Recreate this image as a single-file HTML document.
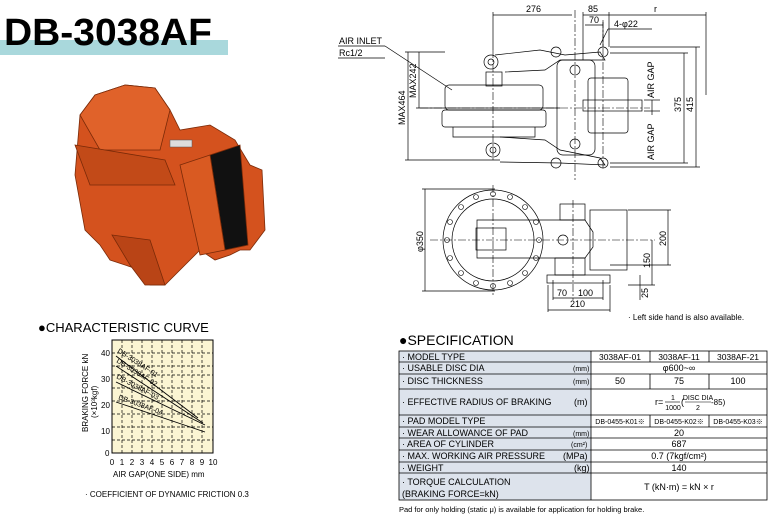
<!DOCTYPE html>
<html><head><meta charset="utf-8"><style>
body{margin:0;background:#fff;width:772px;height:518px;overflow:hidden;font-family:"Liberation Sans",sans-serif}
svg{display:block}
text{font-family:"Liberation Sans","Noto Sans CJK JP",sans-serif}
</style></head><body>
<svg width="772" height="518" viewBox="0 0 772 518" xmlns="http://www.w3.org/2000/svg">
<!-- title -->
<rect x="0" y="40" width="228" height="15" fill="#a9d8dc"/>
<text x="4" y="45" font-size="38" font-weight="bold" fill="#000" textLength="208" lengthAdjust="spacingAndGlyphs">DB-3038AF</text>

<!-- photo -->
<g stroke="#7a2a08" stroke-width="0.8">
<path d="M80 115 L95 95 L125 85 L155 88 L170 110 L180 130 L210 125 L235 140 L250 165 L262 170 L265 230 L250 250 L240 250 L230 255 L215 260 L200 250 L185 265 L165 285 L150 285 L140 270 L110 260 L100 245 L85 230 L75 175 Z" fill="#d4521e"/>
<path d="M80 115 L95 95 L125 85 L155 88 L170 110 L160 150 L100 150 Z" fill="#e0622a"/>
<path d="M75 145 L165 160 L175 185 L90 185 Z" fill="#c24a18"/>
<path d="M210 155 L240 145 L248 245 L225 250 Z" fill="#111"/>
<path d="M180 165 L210 155 L225 250 L200 255 Z" fill="#d95a22"/>
<path d="M112 235 L150 240 L165 285 L145 285 L130 265 Z" fill="#b94416"/>
</g>
<rect x="170" y="140" width="22" height="7" fill="#ddd" stroke="#555" stroke-width="0.5"/>

<!-- top drawing -->
<g fill="none" stroke="#000" stroke-width="0.7">
<line x1="493" y1="15" x2="572" y2="15"/><line x1="493" y1="12" x2="493" y2="50"/>
<line x1="583" y1="15" x2="609" y2="15"/><line x1="609" y1="15" x2="706" y2="15"/><line x1="706" y1="12" x2="706" y2="95"/>
<line x1="585" y1="25" x2="603" y2="25"/><line x1="603" y1="22" x2="603" y2="47"/><line x1="583" y1="12" x2="583" y2="60"/><line x1="609" y1="12" x2="609" y2="47"/>
<line x1="608" y1="29" x2="652" y2="29"/><line x1="608" y1="29" x2="600" y2="45"/>
<line x1="338" y1="46" x2="385" y2="46"/><line x1="385" y1="46" x2="452" y2="90"/><line x1="338" y1="58" x2="385" y2="58"/>
<rect x="445" y="85" width="98" height="25" rx="4"/>
<rect x="442" y="110" width="104" height="17" rx="3"/>
<path d="M453 127 L453 137 L535 137 L535 127"/>
<rect x="486" y="72" width="16" height="14"/>
<circle cx="491" cy="62" r="7"/><circle cx="491" cy="62" r="3"/>
<path d="M495 55 L540 50 L565 55 L600 52 L605 60 L560 60 L545 70 L505 72"/>
<path d="M500 137 L545 140 L560 150 L600 158 L605 165 L560 163 L500 162"/>
<circle cx="493" cy="150" r="7"/><circle cx="493" cy="150" r="3"/>
<rect x="557" y="60" width="38" height="95" rx="6"/>
<circle cx="575" cy="70" r="5"/><circle cx="575" cy="144" r="5"/>
<rect x="588" y="78" width="40" height="55" rx="3"/>
<rect x="583" y="100" width="59" height="11"/>
<circle cx="556" cy="52" r="5"/><circle cx="603" cy="52" r="5"/><circle cx="556" cy="163" r="5"/><circle cx="603" cy="163" r="5"/>
<line x1="408" y1="52" x2="408" y2="160"/><line x1="405" y1="52" x2="445" y2="52"/><line x1="405" y1="160" x2="500" y2="160"/>
<line x1="419" y1="52" x2="419" y2="108"/><line x1="416" y1="108" x2="560" y2="108"/>
<line x1="684" y1="53" x2="684" y2="163"/><line x1="610" y1="53" x2="688" y2="53"/><line x1="610" y1="163" x2="688" y2="163"/>
<line x1="696" y1="47" x2="696" y2="167"/><line x1="610" y1="47" x2="700" y2="47"/><line x1="610" y1="167" x2="700" y2="167"/>
<line x1="652" y1="100" x2="652" y2="115"/><line x1="644" y1="100" x2="660" y2="100"/><line x1="644" y1="111" x2="660" y2="111"/>
</g>
<g stroke="#000" stroke-width="0.6" stroke-dasharray="8,2,2,2" fill="none">
<line x1="575" y1="10" x2="575" y2="180"/><line x1="493" y1="50" x2="493" y2="160"/><line x1="603" y1="20" x2="603" y2="170"/>
<line x1="420" y1="108" x2="650" y2="108"/>
</g>
<g font-size="9" fill="#000">
<text x="526" y="12">276</text><text x="588" y="12">85</text><text x="589" y="23">70</text><text x="654" y="12">r</text>
<text x="614" y="27">4-φ22</text>
<text x="339" y="44">AIR INLET</text><text x="339" y="56">Rc1/2</text>
<text transform="translate(405,125) rotate(-90)">MAX464</text>
<text transform="translate(416,98) rotate(-90)">MAX242</text>
<text transform="translate(681,112) rotate(-90)">375</text>
<text transform="translate(693,112) rotate(-90)">415</text>
<text transform="translate(654,98) rotate(-90)">AIR GAP</text>
<text transform="translate(654,160) rotate(-90)">AIR GAP</text>
</g>

<!-- bottom drawing -->
<g fill="none" stroke="#000" stroke-width="0.7">
<circle cx="493" cy="240" r="50"/><circle cx="493" cy="240" r="41"/>
<g stroke-width="0.6">
<circle cx="539" cy="240" r="2.5"/><circle cx="447" cy="240" r="2.5"/><circle cx="493" cy="194" r="2.5"/><circle cx="493" cy="286" r="2.5"/>
<circle cx="525" cy="207" r="2.5"/><circle cx="461" cy="207" r="2.5"/><circle cx="525" cy="273" r="2.5"/><circle cx="461" cy="273" r="2.5"/>
<circle cx="536" cy="222" r="2.5"/><circle cx="450" cy="222" r="2.5"/><circle cx="536" cy="258" r="2.5"/><circle cx="450" cy="258" r="2.5"/>
<circle cx="510" cy="197" r="2.5"/><circle cx="476" cy="197" r="2.5"/><circle cx="510" cy="283" r="2.5"/><circle cx="476" cy="283" r="2.5"/>
</g>
<path d="M477 220 L585 220 L593 232 L593 247 L585 258 L477 258 Z"/>
<rect x="476" y="228" width="30" height="22"/>
<rect x="560" y="204" width="25" height="16"/>
<circle cx="563" cy="240" r="5"/>
<rect x="590" y="210" width="37" height="60"/>
<rect x="555" y="258" width="30" height="17"/>
<rect x="547" y="275" width="63" height="8"/>
<line x1="425" y1="189" x2="425" y2="291"/><line x1="422" y1="189" x2="495" y2="189"/><line x1="422" y1="291" x2="495" y2="291"/>
<line x1="668" y1="210" x2="668" y2="265"/><line x1="628" y1="210" x2="671" y2="210"/><line x1="610" y1="265" x2="671" y2="265"/>
<line x1="652" y1="240" x2="652" y2="285"/><line x1="628" y1="285" x2="655" y2="285"/>
<line x1="640" y1="275" x2="640" y2="300"/>
<line x1="553" y1="298" x2="603" y2="298"/><line x1="553" y1="280" x2="553" y2="300"/><line x1="603" y1="280" x2="603" y2="300"/>
<line x1="548" y1="310" x2="610" y2="310"/><line x1="548" y1="285" x2="548" y2="312"/><line x1="610" y1="285" x2="610" y2="312"/>
</g>
<g stroke="#000" stroke-width="0.6" stroke-dasharray="8,2,2,2" fill="none">
<line x1="430" y1="240" x2="655" y2="240"/><line x1="493" y1="185" x2="493" y2="295"/><line x1="573" y1="200" x2="573" y2="300"/>
</g>
<g font-size="9" fill="#000">
<text transform="translate(423,252) rotate(-90)">φ350</text>
<text transform="translate(666,246) rotate(-90)">200</text>
<text transform="translate(650,268) rotate(-90)">150</text>
<text transform="translate(648,298) rotate(-90)">25</text>
<text x="557" y="296">70</text><text x="578" y="296">100</text><text x="570" y="307">210</text>
<text x="628" y="320" font-size="8">· Left side hand is also available.</text>
</g>

<!-- characteristic curve -->
<text x="38" y="332" font-size="13">●CHARACTERISTIC CURVE</text>
<rect x="112" y="340" width="101" height="113" fill="#fbf5d3" stroke="#000" stroke-width="1"/>
<g stroke="#000" stroke-width="0.7" stroke-dasharray="3,2">
<line x1="122" y1="340" x2="122" y2="453"/><line x1="132" y1="340" x2="132" y2="453"/><line x1="142" y1="340" x2="142" y2="453"/><line x1="152" y1="340" x2="152" y2="453"/><line x1="162" y1="340" x2="162" y2="453"/><line x1="172" y1="340" x2="172" y2="453"/><line x1="182" y1="340" x2="182" y2="453"/><line x1="192" y1="340" x2="192" y2="453"/><line x1="202" y1="340" x2="202" y2="453"/>
<line x1="112" y1="427" x2="213" y2="427"/><line x1="112" y1="401" x2="213" y2="401"/><line x1="112" y1="375" x2="213" y2="375"/><line x1="112" y1="353" x2="213" y2="353"/><line x1="112" y1="366" x2="213" y2="366"/><line x1="112" y1="388" x2="213" y2="388"/><line x1="112" y1="414" x2="213" y2="414"/><line x1="112" y1="440" x2="213" y2="440"/>
</g>
<g stroke="#000" stroke-width="0.9">
<line x1="116" y1="356" x2="198" y2="418"/><line x1="116" y1="366" x2="203" y2="423"/><line x1="116" y1="382" x2="205" y2="425"/><line x1="116" y1="402" x2="205" y2="432"/>
</g>
<g font-size="7" fill="#000">
<text transform="translate(117,352) rotate(33)">DB-3038AF-01</text>
<text transform="translate(116,362) rotate(32)">DB-3038AF-02</text>
<text transform="translate(116,378) rotate(28)">DB-3038AF-03</text>
<text transform="translate(118,399) rotate(20)">DB-3038AF-04</text>
</g>
<g font-size="8" fill="#000">
<text x="101" y="356">40</text><text x="101" y="382">30</text><text x="101" y="408">20</text><text x="101" y="434">10</text><text x="105" y="456">0</text>
<g text-anchor="middle"><text x="112" y="465">0</text><text x="122" y="465">1</text><text x="132" y="465">2</text><text x="142" y="465">3</text><text x="152" y="465">4</text><text x="162" y="465">5</text><text x="172" y="465">6</text><text x="182" y="465">7</text><text x="192" y="465">8</text><text x="202" y="465">9</text><text x="213" y="465">10</text></g>
<text x="113" y="477">AIR GAP(ONE SIDE) mm</text>
<text transform="translate(88,432) rotate(-90)">BRAKING FORCE kN</text>
<text transform="translate(97,418) rotate(-90)">(×10³kgf)</text>
<text x="85" y="497">· COEFFICIENT OF DYNAMIC FRICTION 0.3</text>
</g>

<!-- specification -->
<text x="399" y="345" font-size="14">●SPECIFICATION</text>
<rect x="399" y="351" width="192" height="149" fill="#dde3ec"/>
<g stroke="#000" stroke-width="0.8" fill="none">
<rect x="399" y="351" width="368" height="149"/>
<line x1="399" y1="362" x2="767" y2="362"/><line x1="399" y1="374" x2="767" y2="374"/><line x1="399" y1="389" x2="767" y2="389"/><line x1="399" y1="415" x2="767" y2="415"/><line x1="399" y1="427" x2="767" y2="427"/><line x1="399" y1="438" x2="767" y2="438"/><line x1="399" y1="450" x2="767" y2="450"/><line x1="399" y1="462" x2="767" y2="462"/><line x1="399" y1="473" x2="767" y2="473"/>
<line x1="591" y1="351" x2="591" y2="500"/>
<line x1="650" y1="351" x2="650" y2="362"/><line x1="709" y1="351" x2="709" y2="362"/>
<line x1="650" y1="374" x2="650" y2="389"/><line x1="709" y1="374" x2="709" y2="389"/>
<line x1="650" y1="415" x2="650" y2="427"/><line x1="709" y1="415" x2="709" y2="427"/>
<line x1="665" y1="402" x2="680" y2="402" stroke-width="0.6"/><line x1="685" y1="402" x2="711" y2="402" stroke-width="0.6"/>
</g>
<g font-size="9" fill="#000">
<text x="402" y="360">· MODEL TYPE</text>
<text x="402" y="371">· USABLE DISC DIA</text><text x="573" y="371" font-size="7">(mm)</text>
<text x="402" y="384">· DISC THICKNESS</text><text x="573" y="384" font-size="7">(mm)</text>
<text x="402" y="405">· EFFECTIVE RADIUS OF BRAKING</text><text x="574" y="405">(m)</text>
<text x="402" y="424">· PAD MODEL TYPE</text>
<text x="402" y="436">· WEAR ALLOWANCE OF PAD</text><text x="573" y="436" font-size="7">(mm)</text>
<text x="402" y="447">· AREA OF CYLINDER</text><text x="571" y="447" font-size="7">(cm²)</text>
<text x="402" y="459">· MAX. WORKING AIR PRESSURE</text><text x="563" y="459">(MPa)</text>
<text x="402" y="471">· WEIGHT</text><text x="574" y="471">(kg)</text>
<text x="402" y="485">· TORQUE CALCULATION</text><text x="402" y="497">(BRAKING FORCE=kN)</text>
<text x="655" y="405">r=</text>
<text x="673" y="400" font-size="7" text-anchor="middle">1</text>
<text x="673" y="410" font-size="7" text-anchor="middle">1000</text>
<text x="681" y="405" font-size="9">(</text>
<text x="698" y="400" font-size="7" text-anchor="middle">DISC DIA</text>
<text x="698" y="410" font-size="7" text-anchor="middle">2</text>
<text x="711" y="405" font-size="8">-85)</text>
<g text-anchor="middle">
<text x="620" y="360" font-size="8.5">3038AF-01</text><text x="679" y="360" font-size="8.5">3038AF-11</text><text x="738" y="360" font-size="8.5">3038AF-21</text>
<text x="679" y="371">φ600~∞</text>
<text x="620" y="384">50</text><text x="679" y="384">75</text><text x="738" y="384">100</text>
<text x="620" y="424" font-size="7">DB-0455-K01※</text><text x="679" y="424" font-size="7">DB-0455-K02※</text><text x="738" y="424" font-size="7">DB-0455-K03※</text>
<text x="679" y="436">20</text><text x="679" y="447">687</text><text x="679" y="459">0.7 (7kgf/cm²)</text><text x="679" y="471">140</text>
<text x="679" y="490">T (kN·m) = kN × r</text>
</g>
<text x="399" y="512" font-size="7.5">Pad for only holding (static μ) is available for application for holding brake.</text>
</g>
</svg>
</body></html>
